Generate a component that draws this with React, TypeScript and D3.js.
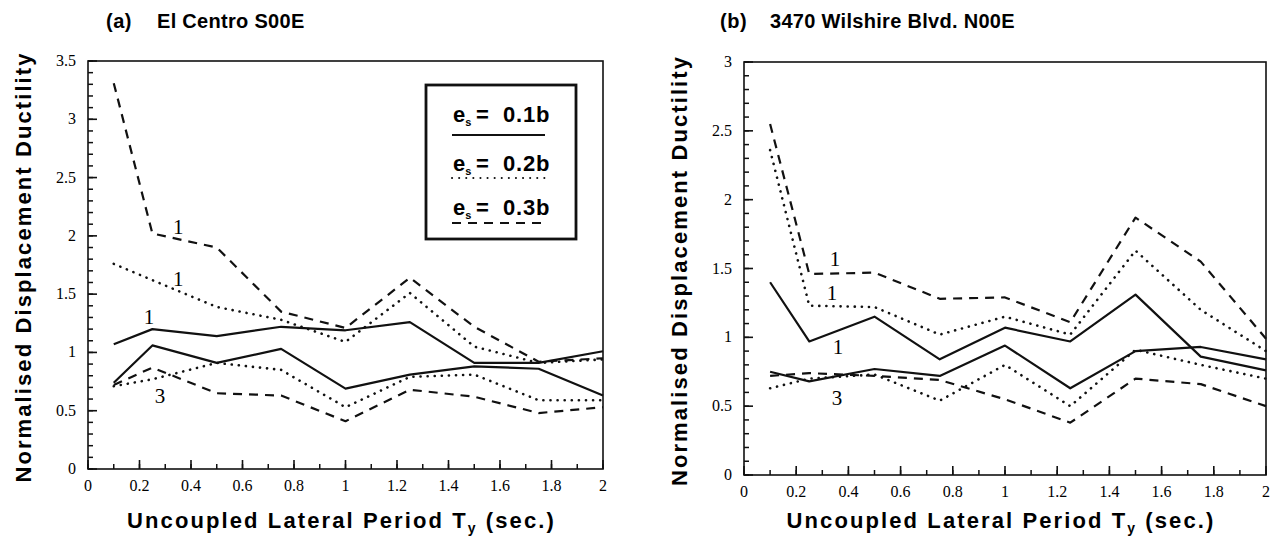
import React from "react";
import * as d3 from "d3";

// uncoupled lateral period (sec.)
const periods = [0.1, 0.25, 0.5, 0.75, 1.0, 1.25, 1.5, 1.75, 2.0];

// (a) El Centro S00E
const aSolid1 = [1.07, 1.2, 1.14, 1.22, 1.19, 1.26, 0.91, 0.91, 1.01];
const aSolid3 = [0.74, 1.06, 0.91, 1.03, 0.69, 0.81, 0.88, 0.86, 0.63];
const aDot1 = [1.76, 1.62, 1.39, 1.28, 1.09, 1.51, 1.05, 0.91, 0.94];
const aDot3 = [0.71, 0.77, 0.91, 0.85, 0.53, 0.79, 0.81, 0.59, 0.59];
const aDash1 = [3.31, 2.02, 1.9, 1.35, 1.21, 1.64, 1.22, 0.92, 0.95];
const aDash3 = [0.72, 0.87, 0.65, 0.63, 0.41, 0.68, 0.62, 0.48, 0.53];

// (b) 3470 Wilshire Blvd. N00E
const bSolid1 = [1.4, 0.97, 1.15, 0.84, 1.07, 0.97, 1.31, 0.86, 0.76];
const bSolid3 = [0.75, 0.68, 0.77, 0.72, 0.94, 0.63, 0.9, 0.93, 0.84];
const bDot1 = [2.36, 1.23, 1.22, 1.02, 1.15, 1.02, 1.63, 1.2, 0.9];
const bDot3 = [0.63, 0.7, 0.73, 0.54, 0.8, 0.5, 0.91, 0.8, 0.7];
const bDash1 = [2.55, 1.46, 1.47, 1.28, 1.29, 1.11, 1.87, 1.55, 0.99];
const bDash3 = [0.72, 0.74, 0.72, 0.69, 0.55, 0.38, 0.7, 0.66, 0.5];

// curve number labels [x, y, text]
const aLabels: [number, number, string][] = [
  [0.35, 2.02, "1"],
  [0.35, 1.57, "1"],
  [0.237, 1.24, "1"],
  [0.28, 0.57, "3"],
];
const bLabels: [number, number, string][] = [
  [0.349, 1.52, "1"],
  [0.337, 1.27, "1"],
  [0.36, 0.88, "1"],
  [0.356, 0.51, "3"],
];

const xTickLabels = ["0", "0.2", "0.4", "0.6", "0.8", "1", "1.2", "1.4", "1.6", "1.8", "2"];
const legendLabels = ["0.1b", "0.2b", "0.3b"];

const SANS = "'Liberation Sans', Arial, sans-serif";
const SERIF = "'Liberation Serif', 'Times New Roman', serif";

const styles = {
  solid: { dash: undefined as string | undefined, cap: "butt" },
  dot: { dash: "0.1,7", cap: "round" },
  dash: { dash: "9,7", cap: "butt" },
};

type PanelProps = {
  x0: number;
  x1: number;
  y0: number;
  y1: number;
  yMax: number;
  title: string;
  tag: string;
  tagX: number;
  titleX: number;
  series: { values: number[]; kind: "solid" | "dot" | "dash" }[];
  labels: [number, number, string][];
  legend?: boolean;
};

function Panel(p: PanelProps) {
  const x = d3.scaleLinear().domain([0, 2]).range([p.x0, p.x1]);
  const y = d3.scaleLinear().domain([0, p.yMax]).range([p.y0, p.y1]);
  const line = d3
    .line<number>()
    .x((_, i) => x(periods[i]))
    .y((d) => y(d));

  const yMinor = d3.range(0, Math.round(p.yMax * 10) + 1).map((i) => i / 10);
  const yMajor = d3.range(0, Math.round(p.yMax * 2) + 1).map((i) => i / 2);
  const xMinor = d3.range(0, 21).map((i) => i / 10);
  const xMajor = d3.range(0, 11).map((i) => i / 5);
  const cx = (p.x0 + p.x1) / 2;
  const cy = (p.y0 + p.y1) / 2;

  return (
    <g>
      <text x={p.tagX} y={28} fontFamily={SANS} fontWeight="bold" fontSize={20} letterSpacing={0.5}>
        {p.tag}
      </text>
      <text x={p.titleX} y={28} fontFamily={SANS} fontWeight="bold" fontSize={20} letterSpacing={0.3}>
        {p.title}
      </text>

      {/* frame */}
      <rect
        x={p.x0}
        y={p.y1}
        width={p.x1 - p.x0}
        height={p.y0 - p.y1}
        fill="none"
        stroke="#111"
        strokeWidth={1.6}
      />

      {/* y ticks */}
      {yMinor.map((v) => (
        <line key={"ym" + v} x1={p.x0} x2={p.x0 + 5} y1={y(v)} y2={y(v)} stroke="#111" strokeWidth={1.5} />
      ))}
      {yMajor.map((v) => (
        <g key={"yM" + v}>
          <line x1={p.x0} x2={p.x0 + 9} y1={y(v)} y2={y(v)} stroke="#111" strokeWidth={1.6} />
          <text
            x={p.x0 - 12}
            y={y(v) + 5}
            textAnchor="end"
            fontFamily={SERIF}
            fontSize={16}
          >
            {String(v)}
          </text>
        </g>
      ))}

      {/* x ticks */}
      {xMinor.map((v) => (
        <line key={"xm" + v} x1={x(v)} x2={x(v)} y1={p.y0} y2={p.y0 - 5} stroke="#111" strokeWidth={1.5} />
      ))}
      {xMajor.map((v, i) => (
        <g key={"xM" + v}>
          <line x1={x(v)} x2={x(v)} y1={p.y0} y2={p.y0 - 9} stroke="#111" strokeWidth={1.6} />
          <text x={x(v)} y={p.y0 + 22} textAnchor="middle" fontFamily={SERIF} fontSize={16}>
            {xTickLabels[i]}
          </text>
        </g>
      ))}

      {/* series */}
      {p.series.map((s, i) => (
        <path
          key={i}
          d={line(s.values) || ""}
          fill="none"
          stroke="#111"
          strokeWidth={s.kind === "dot" ? 2.6 : 2.2}
          strokeDasharray={styles[s.kind].dash}
          strokeLinecap={styles[s.kind].cap as any}
          strokeLinejoin="round"
        />
      ))}

      {p.labels.map(([lx, ly, t], i) => (
        <text key={i} x={x(lx)} y={y(ly)} textAnchor="middle" fontFamily={SERIF} fontSize={21}>
          {t}
        </text>
      ))}

      {/* axis titles */}
      <text
        x={cx - 4}
        y={528}
        textAnchor="middle"
        fontFamily={SANS}
        fontWeight="bold"
        fontSize={22}
        letterSpacing={2.1}
      >
        Uncoupled Lateral Period T
        <tspan fontSize={14} dy={5}>
          y
        </tspan>
        <tspan dy={-5}> (sec.)</tspan>
      </text>
      <text
        transform={`translate(${p.x0 - 57},${cy + 2}) rotate(-90)`}
        textAnchor="middle"
        fontFamily={SANS}
        fontWeight="bold"
        fontSize={22}
        letterSpacing={2.1}
      >
        Normalised Displacement Ductility
      </text>

      {p.legend && (
        <g>
          <rect x={426} y={85} width={150} height={154} fill="#fff" stroke="#111" strokeWidth={2.8} />
          {legendLabels.map((t, i) => {
            const base = [122, 171, 215][i];
            const ly = [135, 178, 223][i];
            const kind = (["solid", "dot", "dash"] as const)[i];
            return (
              <g key={t} fontFamily={SANS} fontWeight="bold" fontSize={22}>
                <text x={453} y={base}>
                  e
                  <tspan fontSize={11} dy={4}>
                    s
                  </tspan>
                </text>
                <text x={476} y={base}>=</text>
                <text x={503} y={base} letterSpacing={0.8}>
                  {t}
                </text>
                <line
                  x1={452}
                  x2={545}
                  y1={ly}
                  y2={ly}
                  stroke="#111"
                  strokeWidth={2}
                  strokeDasharray={styles[kind].dash}
                  strokeLinecap={styles[kind].cap as any}
                />
              </g>
            );
          })}
        </g>
      )}
    </g>
  );
}

export default function App() {
  return (
    <svg
      width={1275}
      height={544}
      style={{ position: "absolute", left: 0, top: 0, background: "#fff" }}
    >
      <Panel
        x0={88}
        x1={603}
        y0={469}
        y1={61}
        yMax={3.5}
        tag="(a)"
        tagX={106}
        titleX={157}
        title="El Centro S00E"
        legend
        series={[
          { values: aSolid1, kind: "solid" },
          { values: aSolid3, kind: "solid" },
          { values: aDot1, kind: "dot" },
          { values: aDot3, kind: "dot" },
          { values: aDash1, kind: "dash" },
          { values: aDash3, kind: "dash" },
        ]}
        labels={aLabels}
      />
      <Panel
        x0={744}
        x1={1266}
        y0={475}
        y1={62}
        yMax={3}
        tag="(b)"
        tagX={720}
        titleX={770}
        title="3470 Wilshire Blvd. N00E"
        series={[
          { values: bSolid1, kind: "solid" },
          { values: bSolid3, kind: "solid" },
          { values: bDot1, kind: "dot" },
          { values: bDot3, kind: "dot" },
          { values: bDash1, kind: "dash" },
          { values: bDash3, kind: "dash" },
        ]}
        labels={bLabels}
      />
    </svg>
  );
}
